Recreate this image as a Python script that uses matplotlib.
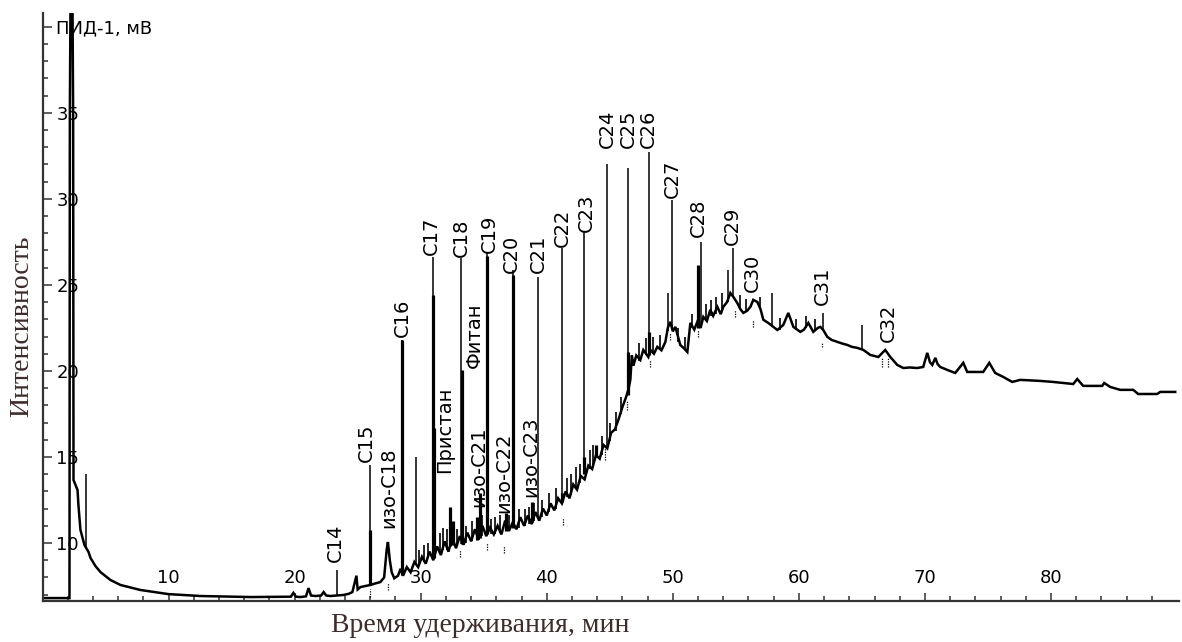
"""Chromatogram: FID-1 signal vs retention time, n-alkane peaks labelled."""
import numpy as np
import matplotlib
matplotlib.use('Agg')
import matplotlib.pyplot as plt
from matplotlib.ticker import FixedLocator

# Baseline trace (retention time, min / signal, mV)
BASE_T = [0.0, 2.14, 2.17, 2.25, 2.35, 2.43, 2.46, 2.78, 2.85, 3.01, 3.33, 3.65, 3.81, 4.2, 4.6,
          5.39, 6.19, 7.77, 9.99, 12.53, 16.49, 19.7, 19.9, 20.1, 20.46, 20.9, 21.1, 21.3, 21.65,
          22.1, 22.3, 22.5, 22.84, 23.87, 24.3, 24.58, 24.9, 25.0, 25.22, 25.6, 26.0, 26.4, 26.8,
          27.1, 27.3, 27.4, 27.55, 27.7, 27.9, 28.2,
          28.4, 28.6, 28.9, 29.2, 29.5, 29.8, 30.1, 30.4, 30.7, 31.0, 31.3, 31.6, 31.9, 32.2,
          32.5, 32.8, 33.1, 33.4, 33.7, 34.0, 34.3, 34.6, 34.9, 35.2, 35.5, 35.8, 36.1, 36.4,
          36.7, 37.0, 37.3, 37.6, 37.9, 38.2, 38.5, 38.8, 39.1, 39.4, 39.7, 40.0, 40.3, 40.6,
          40.9, 41.2, 41.5, 41.8, 42.1, 42.4, 42.7, 43.0, 43.3, 43.6, 43.9, 44.2, 44.5, 44.8,
          45.1, 45.4, 45.7, 46.0, 46.3, 46.5, 46.63, 46.75, 46.87,
          47.1, 47.42, 47.66, 48.06, 48.22, 48.5, 48.77, 49.1, 49.41, 49.6, 49.8, 50.0, 50.2,
          50.59, 50.9, 51.15, 51.39, 51.7, 51.94, 52.2, 52.42, 52.7, 52.97, 53.2, 53.53, 53.8,
          54.0, 54.3, 54.56, 54.8, 55.11, 55.35, 55.59, 55.9, 56.15, 56.38, 56.7, 56.95, 57.18,
          57.57, 57.9, 58.29, 58.76, 59.16, 59.56, 60.11, 60.4, 60.75, 61.14, 61.5, 61.7, 61.93,
          62.25, 62.6, 63.04, 63.4, 63.84, 64.2, 64.63, 65.11, 65.66, 66.3, 66.85, 67.25, 67.8,
          68.28, 68.8, 69.39, 69.86, 70.18, 70.4, 70.58, 70.82, 71.0, 71.21, 71.77, 72.4, 73.04,
          73.35, 74.62, 75.1, 75.57, 76.21, 76.92, 77.56, 79.14, 80.17, 80.97, 81.76, 82.08,
          82.55, 84.06, 84.22, 84.69, 85.49, 86.52, 86.91, 88.42, 88.66, 89.85]
BASE_V = [6.80, 6.80, 35.0, 45.0, 45.0, 35.0, 13.66, 13.08, 12.2, 10.76, 9.88, 9.48, 9.13, 8.66,
          8.31, 7.85, 7.56, 7.27, 7.03, 6.92, 6.86, 6.88, 7.1, 6.88, 6.86, 6.90, 7.38, 6.95, 6.92,
          6.95, 7.15, 6.95, 6.92, 6.98, 7.05, 7.15, 8.1, 7.3, 7.44, 7.5, 7.56, 7.65, 7.73,
          8.0, 9.6, 10.06, 9.0, 8.3, 7.95, 8.1,
          8.5, 8.1, 8.6, 8.3, 8.9, 8.6, 9.2, 8.8, 9.5, 9.0, 9.8, 9.3, 10.1, 9.5,
          10.3, 9.7, 10.4, 9.9, 10.6, 10.1, 10.8, 10.2, 11.0, 10.4, 10.9, 10.5, 11.0, 10.5,
          11.3, 10.7, 11.2, 10.8, 11.5, 11.0, 11.6, 11.1, 11.8, 11.3, 12.0, 11.6, 12.3, 11.9,
          12.6, 12.3, 13.0, 12.6, 13.4, 13.1, 13.9, 13.7, 14.5, 14.3, 15.1, 14.9, 15.7, 15.5,
          16.4, 16.6, 17.2, 17.9, 18.5, 19.0, 19.5, 20.9, 20.3,
          20.9, 20.64, 21.22, 20.81, 21.22, 21.0, 21.4, 21.2, 21.69, 22.5, 22.85, 22.3, 22.56,
          21.51, 21.3, 21.1, 22.79, 22.4, 22.85, 22.5, 23.14, 22.9, 23.55, 23.2, 23.72, 23.3,
          23.72, 24.0, 24.53, 24.3, 23.95, 23.6, 23.37, 23.5, 23.72, 24.13, 24.01, 23.6, 22.97,
          22.79, 22.6, 22.38, 22.67, 23.37, 22.56, 22.27, 22.4, 22.79, 22.27, 22.5, 22.56, 22.38,
          21.98, 21.8, 21.69, 21.6, 21.51, 21.4, 21.34, 21.22, 20.93, 20.81, 21.22, 20.81, 20.35,
          20.17, 20.2, 20.17, 20.23, 21.05, 20.5, 20.35, 20.76, 20.4, 20.23, 20.06, 19.88, 20.47,
          19.94, 19.94, 20.47, 19.88, 19.65, 19.36, 19.48, 19.42, 19.36, 19.3, 19.24, 19.53,
          19.13, 19.13, 19.3, 19.07, 18.9, 18.9, 18.66, 18.66, 18.78, 18.78]

# Narrow peak tips: time, foot, apex
SPIKE_T = [3.49, 23.39, 26.01, 28.55, 29.66, 30.97, 33.23, 35.29, 37.35, 39.33, 41.24, 42.98,
           44.81, 46.47, 48.14, 49.64, 49.96, 52.26, 54.4, 54.8, 57.89, 61.93, 65.03]
SPIKE_BASE = [9.7, 6.98, 7.56, 8.14, 8.7, 9.1, 9.95, 10.5, 10.9, 11.4, 12.4, 14.0,
              15.6, 18.6, 20.9, 22.3, 22.5, 22.7, 24.0, 24.3, 22.6, 22.38, 21.25]
SPIKE_TOP = [14.0, 8.43, 14.53, 21.8, 15.0, 26.63, 26.57, 26.92, 25.87, 25.47, 27.15, 28.08,
             32.03, 31.8, 32.73, 24.53, 29.94, 27.5, 25.87, 27.15, 24.53, 23.37, 22.67]

# Broad peak bodies: time, foot, apex
BODY_T = [26.0, 28.55, 30.95, 31.09, 33.31, 35.29, 37.35, 32.36, 32.6, 34.73, 34.5, 36.8,
          38.86, 41.2, 42.95, 43.9, 46.47, 48.14, 52.02]
BODY_BASE = [7.56, 8.14, 9.1, 9.1, 9.95, 10.5, 10.9, 9.8, 9.9, 10.3, 10.2, 10.7,
             11.2, 12.4, 14.0, 15.0, 18.6, 20.9, 22.5]
BODY_TOP = [10.76, 21.8, 24.42, 16.69, 20.06, 26.7, 25.6, 12.09, 11.3, 12.91, 11.5, 11.74,
            12.38, 12.9, 15.0, 15.7, 21.1, 22.27, 26.16]

# Small unlabelled peaks riding on the hump
NOISE_T = [29.9, 30.3, 30.6, 31.5, 31.8, 32.1, 32.9, 33.6, 34.1, 34.9, 35.6, 35.9, 36.3, 37.0,
           37.8, 38.3, 38.6, 39.0, 39.6, 40.2, 40.7, 41.6, 41.9, 42.3, 42.6, 43.4, 43.7, 44.4,
           45.0, 45.5, 45.9, 47.3, 47.9, 48.4, 49.0, 50.4, 51.0, 51.5, 52.6, 53.0, 53.4, 53.9,
           55.3, 55.8, 56.9, 58.5, 59.8, 60.6, 61.3]
NOISE_BASE = [8.7, 8.9, 9.1, 9.4, 9.6, 9.6, 9.8, 10.0, 10.1, 10.4, 10.5, 10.5, 10.6, 10.7,
              10.9, 11.0, 11.1, 11.3, 11.5, 11.8, 12.0, 12.7, 12.8, 13.2, 13.5, 14.3, 14.5, 15.1,
              15.9, 16.5, 17.5, 20.6, 20.9, 21.0, 21.2, 21.7, 21.2, 22.5, 22.9, 23.2, 23.3, 23.5,
              23.6, 23.4, 23.6, 22.4, 22.4, 22.5, 22.3]
NOISE_TOP = [9.6, 9.9, 10.0, 10.6, 10.9, 10.8, 10.8, 11.0, 11.3, 11.6, 11.4, 11.5, 11.6, 11.6,
             12.0, 12.0, 12.1, 12.3, 12.5, 12.9, 13.2, 13.8, 14.0, 14.4, 14.6, 15.4, 15.7, 16.2,
             17.0, 17.6, 18.5, 21.6, 21.9, 22.0, 22.1, 22.5, 22.0, 23.3, 23.9, 24.1, 24.3, 24.5,
             24.4, 24.2, 24.3, 23.1, 23.0, 23.2, 23.0]

# Integration marks (dotted) under the peaks
MARK_T = [26.0, 27.44, 31.0, 33.15, 35.29, 36.6, 41.28, 44.65, 46.39, 48.22, 49.8, 52.02,
          54.96, 56.38, 61.86, 66.61, 67.09]
MARK_TOP = [7.3, 7.7, 10.6, 9.6, 10.0, 9.8, 11.45, 15.55, 18.3, 20.65, 22.2, 22.4,
            23.55, 22.95, 21.7, 20.8, 20.8]
MARK_BOT = [6.85, 7.25, 9.9, 9.2, 9.6, 9.4, 11.05, 14.85, 17.75, 20.25, 21.8, 22.0,
            23.15, 22.55, 21.4, 20.25, 20.25]

# Peak names: text, centre time, lower end of text (mV)
LABELS = ['C14', 'C15', 'изо-C18', 'C16', 'C17', 'Пристан', 'C18', 'Фитан', 'C19', 'изо-C21',
          'C20', 'изо-C22', 'C21', 'изо-C23', 'C22', 'C23', 'C24', 'C25', 'C26', 'C27', 'C28',
          'C29', 'C30', 'C31', 'C32']
LABEL_T = [23.27, 25.69, 27.44, 28.55, 30.85, 31.88, 33.23, 34.26, 35.45, 34.58,
           37.19, 36.56, 39.33, 38.7, 41.24, 43.14, 44.81, 46.47, 48.06, 49.96, 52.02,
           54.72, 56.3, 61.86, 67.09]
LABEL_V = [8.9, 14.71, 10.87, 21.98, 26.74, 14.07, 26.63, 20.17, 26.86, 12.09,
           25.7, 11.74, 25.7, 12.67, 27.21, 28.08, 32.97, 32.97, 32.97, 30.06, 27.79,
           27.33, 24.59, 23.84, 21.69]

X_MAJOR = [10, 20, 30, 40, 50, 60, 70, 80]
Y_MAJOR = [10, 15, 20, 25, 30, 35, 40]
Y_TICK_LABELS = ['10', '15', '20', '25', '30', '35', 'ПИД-1, мВ']

W, H = 1182, 642
fig = plt.figure(figsize=(W / 100, H / 100), dpi=100)
ax = fig.add_axes([42.5 / W, 1 - 601 / H, (1179 - 42.5) / W, (601 - 13) / H])

ax.plot(BASE_T, BASE_V, color='black', lw=1.8, solid_joinstyle='miter')
ax.vlines(NOISE_T, NOISE_BASE, NOISE_TOP, color='black', lw=1.2)
ax.vlines(BODY_T, BODY_BASE, BODY_TOP, color='black', lw=2.3)
ax.vlines(SPIKE_T, SPIKE_BASE, SPIKE_TOP, color='black', lw=1.1)
ax.vlines(MARK_T, MARK_BOT, MARK_TOP, color='black', lw=0.9, linestyles=(0, (1, 1)))

for txt, t, v in zip(LABELS, LABEL_T, LABEL_V):
    ax.text(t, v, txt, rotation=90, ha='center', va='bottom', fontsize=14,
            family='DejaVu Sans', color='black')

ax.set_xlim(0, 90.15)
ax.set_ylim(6.63, 40.8)

for side in ('top', 'right'):
    ax.spines[side].set_visible(False)
for side in ('left', 'bottom'):
    ax.spines[side].set_linewidth(1.6)
    ax.spines[side].set_color('#333333')

ax.xaxis.set_major_locator(FixedLocator(X_MAJOR))
ax.xaxis.set_minor_locator(FixedLocator([m for m in np.arange(2, 89, 2) if m % 10]))
ax.yaxis.set_major_locator(FixedLocator(Y_MAJOR))
ax.yaxis.set_minor_locator(FixedLocator([m for m in range(7, 41) if m % 5]))
ax.set_yticklabels(Y_TICK_LABELS)

ax.tick_params(axis='x', which='major', direction='in', length=6, width=1.1,
               color='#333333', pad=-13, labelsize=13)
ax.tick_params(axis='x', which='minor', direction='in', length=3.3, width=1.1,
               color='#333333')
ax.tick_params(axis='y', which='major', direction='in', length=6.5, width=1.1,
               color='#333333', pad=-10, labelsize=13)
ax.tick_params(axis='y', which='minor', direction='in', length=3.6, width=1.1,
               color='#333333')
for lab in ax.get_xticklabels():
    lab.set_verticalalignment('baseline')
for lab in ax.get_yticklabels():
    lab.set_horizontalalignment('left')

label_color = '#3f2c2a'
ax.set_xlabel('Время удерживания, мин', family='Liberation Serif', fontsize=20,
              color=label_color, va='center')
ax.xaxis.set_label_coords((480 - 42.5) / (1179 - 42.5), -0.0425)
ax.set_ylabel('Интенсивность', family='Liberation Serif', fontsize=20,
              color=label_color, va='center')
ax.yaxis.set_label_coords((22 - 42.5) / (1179 - 42.5), 0.468)

fig.savefig('out.png', dpi=100)
